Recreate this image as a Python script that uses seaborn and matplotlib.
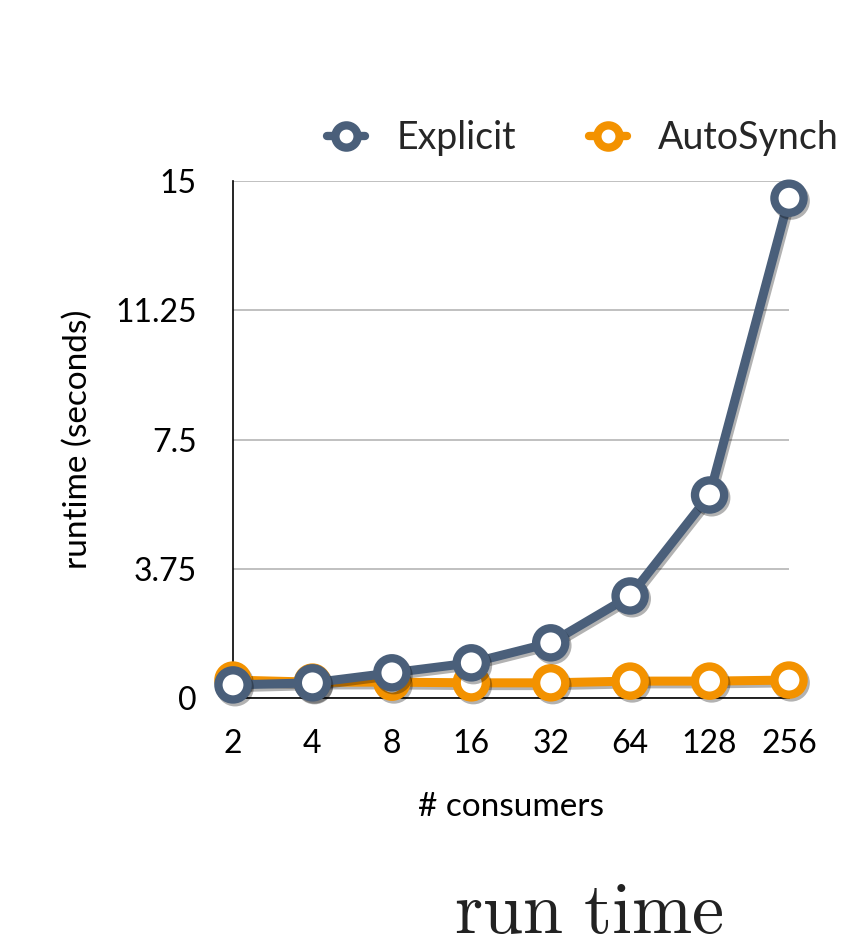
import matplotlib
matplotlib.use("Agg")
import matplotlib.pyplot as plt
import matplotlib.patheffects as pe
from matplotlib.lines import Line2D
import seaborn as sns
import pandas as pd

consumers = [2, 4, 8, 16, 32, 64, 128, 256]
explicit = [0.38, 0.44, 0.73, 1.02, 1.60, 2.96, 5.89, 14.5]
autosynch = [0.52, 0.46, 0.46, 0.44, 0.44, 0.49, 0.49, 0.52]
series_names = ["Explicit", "AutoSynch"]
colors = {"Explicit": "#4a5f7a", "AutoSynch": "#f39200"}
yticks = [0, 3.75, 7.5, 11.25, 15]
ytick_labels = ["0", "3.75", "7.5", "11.25", "15"]

df = pd.DataFrame({
    "consumers": consumers * 2,
    "runtime": autosynch + explicit,
    "series": ["AutoSynch"] * len(consumers) + ["Explicit"] * len(consumers),
})

sns.set_theme(style="white")
plt.rcParams["font.family"] = ["Lato", "DejaVu Sans"]
plt.rcParams["mathtext.fontset"] = "cm"

fig = plt.figure(figsize=(8.44, 9.5), dpi=100)
ax = fig.add_axes([233 / 844, 1 - 698 / 950, 556 / 844, 517 / 950])

sns.lineplot(
    data=df, x="consumers", y="runtime", hue="series",
    hue_order=["AutoSynch", "Explicit"], palette=colors, ax=ax,
    marker="o", markersize=21, markeredgewidth=6, markerfacecolor="white",
    linewidth=6.5, legend=False, clip_on=False, zorder=3,
)
for ln in ax.lines:
    ln.set_markeredgecolor(ln.get_color())
    ln.set_path_effects([pe.SimpleLineShadow(offset=(1.5, -2), alpha=0.3, shadow_color="black"), pe.Normal()])

ax.set_xscale("log", base=2)
ax.set_xlim(2, 256)
ax.set_xticks(consumers)
ax.set_xticklabels([str(c) for c in consumers])
ax.minorticks_off()
ax.set_ylim(0, 15)
ax.set_yticks(yticks)
ax.set_yticklabels(ytick_labels)
ax.yaxis.grid(True, color="#b5b5b5", linewidth=1.2)
ax.set_axisbelow(True)
for s in ["top", "right"]:
    ax.spines[s].set_visible(False)
for s in ["left", "bottom"]:
    ax.spines[s].set_color("black")
    ax.spines[s].set_linewidth(1.2)
ax.tick_params(axis="both", length=0, labelsize=23, colors="black")
ax.tick_params(axis="x", pad=22)
ax.tick_params(axis="y", pad=26)

ax.set_xlabel("# consumers", fontsize=24, labelpad=24, color="black")
ax.set_ylabel("runtime (seconds)", fontsize=24, labelpad=16, color="black")

handles = [
    Line2D([], [], color=colors[n], marker="o", markersize=16, markeredgewidth=6,
           markerfacecolor="white", markeredgecolor=colors[n], linewidth=6)
    for n in series_names
]
fig.legend(handles, series_names, loc="center left", bbox_to_anchor=(312 / 844, 1 - 138 / 950),
           ncol=2, frameon=False, fontsize=27, handlelength=1.0, handletextpad=0.85,
           columnspacing=1.95, borderaxespad=0)

fig.text(589 / 844, 1 - 912 / 950, r"$\mathrm{run\ time}$", fontsize=52, ha="center", va="center", color="#222222")

fig.savefig("out.png", dpi=100)
